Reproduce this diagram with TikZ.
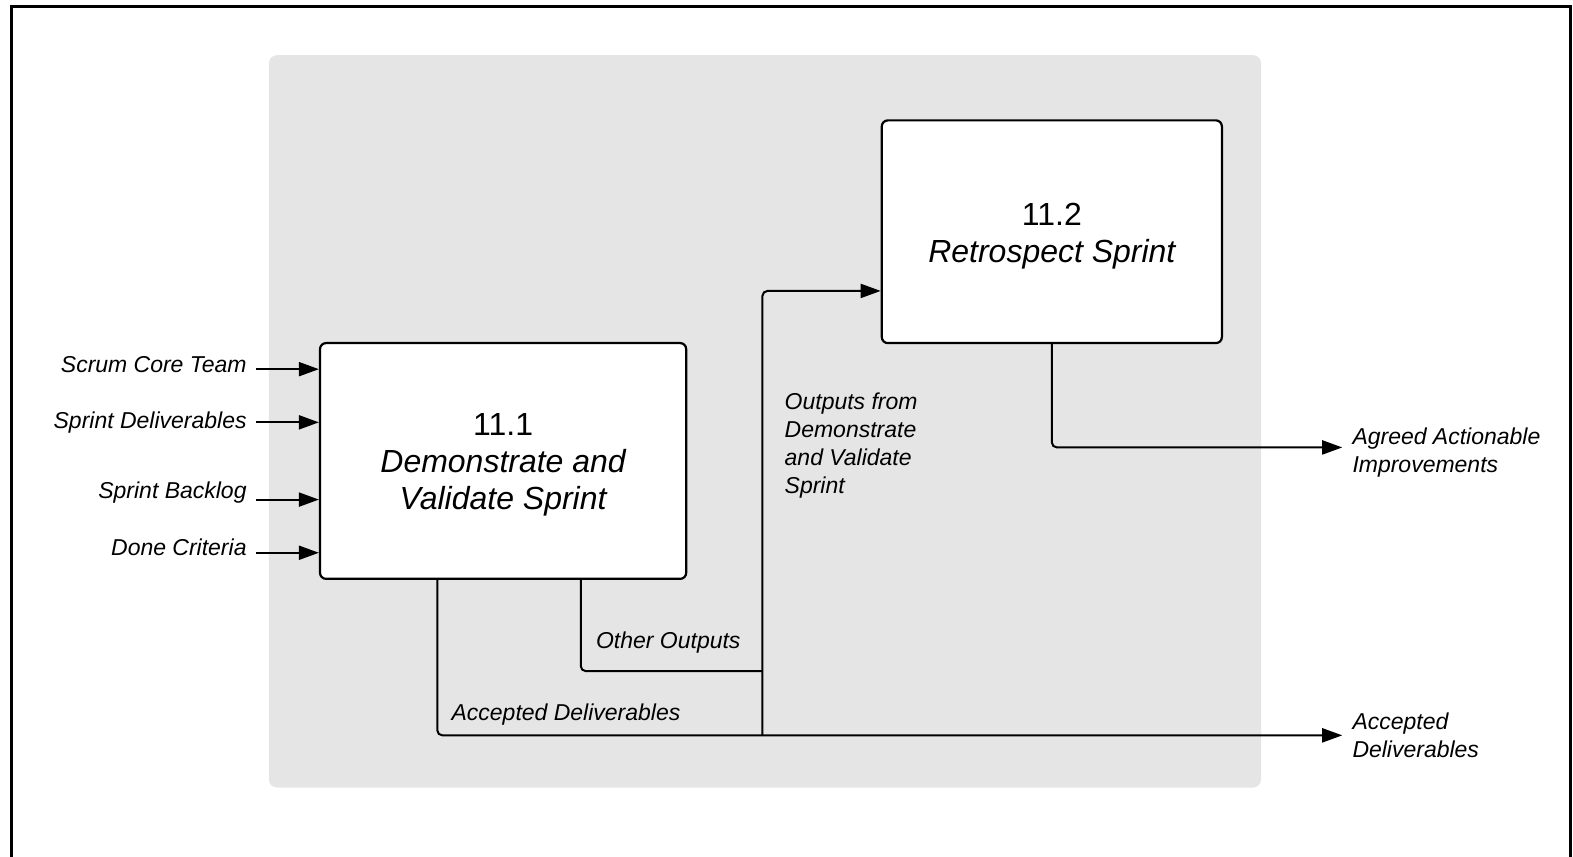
\documentclass[tikz,border=0pt]{standalone}
\usepackage{fontspec}
\setmainfont{Liberation Sans}
\usetikzlibrary{arrows.meta}
\definecolor{panelgray}{HTML}{E5E5E5}
\tikzset{
  procbox/.style={draw, line width=2.2bp, rounded corners=6bp, fill=white, inner sep=0pt},
  proctitle/.style={align=center, font=\fontsize{32}{37}\selectfont, inner sep=0pt},
  lbl/.style={font=\fontsize{23}{28}\selectfont\itshape, inner sep=0pt},
  flow/.style={line width=2bp, rounded corners=5bp},
  arr/.style={flow, -{Triangle[length=20bp,width=14bp]}},
}
\begin{document}
\begin{tikzpicture}[x=1bp,y=-1bp]
\path[use as bounding box, clip] (0,0) rectangle (1568,853.3);
% outer frame (runs off the bottom edge)
\draw[line width=3bp] (11.5,6.5) rectangle (1565.5,900);
% grey panel behind the two processes
\fill[panelgray, rounded corners=8bp] (268,55) rectangle (1257,785);

% the two processes
\node[procbox, minimum width=365bp, minimum height=235bp] (b1) at (501.5,459.5) {};
\node[proctitle] (t1) at ([yshift=-4bp]b1.center)
  {11.1\\{\itshape Demonstrate and}\\{\itshape Validate Sprint}};
\node[procbox, minimum width=339bp, minimum height=222bp] (b2) at (1048.5,231) {};
\node[proctitle] (t2) at ([yshift=-4bp]b2.center)
  {11.2\\{\itshape Retrospect Sprint}};

% inputs on the left of 11.1
\foreach \nm/\txt/\y/\by in {sct/Scrum Core Team/368/371, sdl/Sprint Deliverables/421/427,
    sbl/Sprint Backlog/498/497, dcr/Done Criteria/551/554}{
  \node[lbl, anchor=base east] (\nm) at (246,\by) {\txt};
  \coordinate (\nm-s) at (255,\y);
  \draw[arr] (\nm-s) -- (\nm-s -| b1.west);
}

% outputs of 11.1
\coordinate (ad-top) at ([xshift=118bp]b1.south west);
\coordinate (oo-top) at ([xshift=261bp]b1.south west);
\coordinate (oo-join) at (760,669);
\coordinate (merge) at (760,733);
\coordinate (b2-in) at ([yshift=-59bp]b2.west);
\coordinate (acc-in) at (1338,733);
\coordinate (agr-in) at (1338,446);

\draw[flow] (oo-top) |- (oo-join);
\draw[arr] (ad-top) |- (acc-in);
\draw[arr] (merge) |- (b2-in);
\draw[arr] (b2.south) |- (agr-in);

% connector labels
\node[lbl, anchor=west] (oolbl) at (594,641) {Other Outputs};
\node[lbl, anchor=west] (adlbl) at (450,712) {Accepted Deliverables};
\node[lbl, anchor=west, align=left] (ofdv) at (782,444)
  {Outputs from\\Demonstrate\\and Validate\\Sprint};
\node[lbl, anchor=west, align=left] (agr) at (1348,451)
  {Agreed Actionable\\Improvements};
\node[lbl, anchor=west, align=left] (acc) at (1348,733)
  {Accepted\\Deliverables};
\end{tikzpicture}
\end{document}
